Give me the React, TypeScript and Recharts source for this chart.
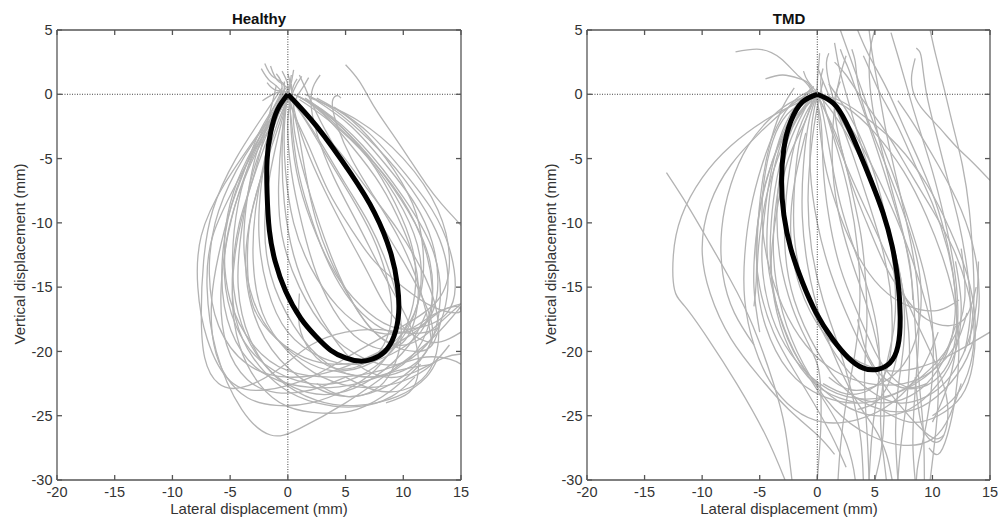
import { LineChart, Line, XAxis, YAxis, ReferenceLine } from 'recharts';

type Pt = [number, number];

const xTicks = [-20, -15, -10, -5, 0, 5, 10, 15];
const yTicks = [-30, -25, -20, -15, -10, -5, 0, 5];

// mean cycles (thick black)
const healthyMean: Pt[] = [
  [0, 0], [2.5, -2.5], [5.4, -6.1], [7.5, -9.2], [8.9, -12.3], [9.5, -14.9], [9.6, -17.0], [9.2, -18.8],
  [8.4, -20.0], [7.3, -20.6], [6.2, -20.75], [5.0, -20.5], [3.7, -19.9], [2.4, -18.8], [1.1, -17.4],
  [-0.2, -15.3], [-1.1, -13.0], [-1.6, -10.6], [-1.8, -7.7], [-1.8, -5.1], [-1.5, -3.0], [-0.9, -1.2], [0, 0],
];
const tmdMean: Pt[] = [
  [0, 0], [1.4, -0.7], [2.5, -2.2], [3.6, -4.4], [4.7, -6.8], [5.7, -9.2], [6.5, -11.8], [7.0, -14.5],
  [7.2, -17.3], [7.0, -19.6], [6.3, -20.9], [5.2, -21.4], [4.0, -21.3], [2.7, -20.5], [1.3, -19.0],
  [-0.1, -17.0], [-1.3, -14.6], [-2.3, -12.0], [-2.9, -9.4], [-3.1, -6.8], [-2.9, -4.2], [-2.3, -2.1],
  [-1.3, -0.6], [0, 0],
];

// individual healthy cycles (grey)
const h01: Pt[] = [[-1.5, 2.2], [-0.8, 1.0], [0, 0], [-2, -3], [-4.5, -7], [-6.5, -11], [-7, -15], [-6.2, -20], [-4, -24.5], [-1.5, -26.5], [1, -26], [5, -24], [9, -21.5], [12.5, -19], [15, -16.5]];
const h02: Pt[] = [[-2, 2.4], [-1.2, 1.3], [-0.3, 0.3], [-2.5, -3], [-5.5, -7], [-7.5, -11], [-7.8, -15], [-7, -19], [-5, -22.3], [-2, -23], [2, -22], [6, -20], [10, -18], [13, -16], [14, -13], [13, -9], [10, -5], [6, -2], [2, -0.3]];
const h03: Pt[] = [[0, 1.6], [0, 0], [-2, -2.5], [-4.5, -6], [-6.3, -10], [-6.8, -14], [-6, -18], [-3.5, -21], [0, -22], [4, -21.5], [8, -20], [11, -18.5], [13, -17], [15, -16.3]];
const h04: Pt[] = [[-0.5, 1.8], [0, 0], [-1.5, -2.5], [-3.5, -6], [-5, -10], [-5.5, -14], [-4.5, -18], [-2, -21], [2, -22.5], [6, -22], [9, -20], [11, -17], [11.5, -13], [10, -9], [7, -5], [3.5, -2], [1, -0.4]];
const h05: Pt[] = [[0.3, 1.5], [0, 0], [-1, -3], [-2.5, -7], [-3.5, -11], [-3.5, -15], [-2, -19], [1, -22], [5, -23.5], [9, -22.5], [12, -20], [13.2, -16], [12.5, -12], [10, -8], [6.5, -4], [3, -1.2], [0.5, 0]];
const h06: Pt[] = [[0.5, 1.9], [0.2, 0.5], [-0.5, -2], [-1.5, -6], [-2, -10], [-1.5, -14], [0.5, -18], [3.5, -21], [7, -22], [10, -21], [12, -18.5], [12.5, -15], [11.5, -11], [9, -7], [5.5, -3.5], [2.5, -1]];
const h07: Pt[] = [[0, 0], [-0.5, -3], [-0.8, -7], [-0.5, -11], [1, -15], [3.5, -18.5], [6.5, -20.5], [9.5, -21], [12, -19.5], [13.5, -17], [13.8, -13.5], [12.5, -10], [10, -6.5], [7, -3.5], [4, -1.2], [1.5, 0]];
const h08: Pt[] = [[-2.3, 2.0], [-1.5, 1], [-0.5, 0], [-1.5, -2], [-3.5, -5], [-5, -8.5], [-5.5, -12], [-5, -16], [-3, -19.5], [0, -21.5], [4, -22], [8, -21.5], [11.5, -20.5], [14, -20.6], [15, -21]];
const h09: Pt[] = [[1.2, 1.4], [0.5, 0.3], [0, -2], [0.3, -6], [1.2, -10], [2.5, -14], [4.5, -17.5], [7, -19.5], [9.5, -19.6], [11, -17.5], [11.2, -14], [10, -10.5], [8, -7], [5.5, -4], [3, -1.5], [1, -0.2]];
const h10: Pt[] = [[0, 0], [-1, -1.5], [-2.5, -4], [-3.5, -8], [-3.8, -12], [-3, -16], [-1, -19], [2, -21], [5, -21.5], [8, -20.5], [10, -18.5], [11, -15.5], [10.8, -12], [9.3, -8.5], [7, -5], [4, -2], [1.5, -0.3]];
const h11: Pt[] = [[0, 0.5], [-0.8, -1], [-2.5, -3.5], [-4.5, -7.5], [-5.6, -12], [-5.5, -16.5], [-4, -20], [-1.5, -22], [2, -22.8], [6, -22.5], [9.5, -21.5], [12.5, -21]];
const h12: Pt[] = [[-0.5, 0.5], [-2, -1.5], [-4.5, -5], [-6.5, -9], [-7.3, -13], [-7.5, -17], [-7.2, -20.5], [-6, -22.5], [-4, -22.8], [-1, -21.5], [2, -19.5], [5, -18.5], [8, -18.3], [11, -18.6], [13, -18.2]];
const h13: Pt[] = [[5, 2.3], [6.2, 1], [7.5, -1], [9, -3], [10.5, -5], [12, -7], [13.3, -8.5], [14.3, -9.5], [15, -10.2]];
const h14: Pt[] = [[4.6, -0.3], [4.3, -0.1], [3.9, -0.4], [3.9, -1.2], [4.3, -2.5], [5.5, -5], [7.5, -8], [9.5, -11], [11, -14], [12, -17], [12.5, -19.5]];
const h15: Pt[] = [[1, 1.5], [1.5, 0.5], [2.5, -1.5], [4, -4], [6, -7], [8, -10], [10, -13], [11.5, -15.5], [12.5, -18], [12, -20], [10, -21.5], [7, -22], [4, -21.5]];
const h16: Pt[] = [[0, 0], [1.5, -2], [3.5, -5], [5.5, -8], [7.3, -11], [8.5, -14], [9, -17], [8.3, -19.5], [6.5, -21], [4, -21.3], [2, -20], [1, -18], [1, -15.5]];
const h17: Pt[] = [[0, 0], [0.8, -2.5], [1.5, -6], [2.5, -10], [4, -13.5], [5.8, -16.5], [7.5, -18.5], [9.5, -19.5], [11.5, -19], [13.5, -17.5], [15, -16.3]];
const h18: Pt[] = [[-0.3, 1], [-0.5, -0.5], [-1.5, -3], [-2.3, -7], [-2.5, -11], [-1.8, -15], [0, -18.5], [3, -20.5], [6, -21], [9, -20.2], [11.5, -18.5], [12.5, -16], [12.3, -13], [11, -10], [8.5, -6.5], [5.5, -3.3], [2.5, -1], [0.5, 0]];
const h19: Pt[] = [[-1, 0.7], [-1.3, -0.5], [-2, -3], [-3, -6.5], [-4.2, -10], [-4.8, -14], [-4.5, -17.5], [-3, -20.5], [-0.5, -22.8], [2.5, -24], [6, -24.3], [9, -23.5], [11, -22]];
const h20: Pt[] = [[0, 0], [-0.3, -2.5], [-0.2, -6], [0.5, -10], [2, -13.5], [4.3, -16.5], [7, -18.3], [10, -18.5], [12.5, -17.2], [14.5, -16.5], [15, -16.8]];
const h21: Pt[] = [[0, 0], [1.2, -1.5], [3, -4], [5, -7], [7, -10], [8.5, -13], [9.5, -16], [9.8, -19], [9, -21.5], [7.5, -23], [5, -23.5], [2.5, -22.5]];
const h22: Pt[] = [[0, 0], [-1.5, -2.5], [-3, -6], [-4, -10.5], [-4.3, -15], [-3.3, -19], [-1, -22], [2.5, -23.8], [6, -24.2], [9.5, -23.5], [12, -22], [13, -20.5]];
const h23: Pt[] = [[-0.2, 0.5], [-1.2, -1], [-2.5, -3], [-3.8, -6], [-5, -9], [-6, -12.5], [-6.6, -16], [-6.4, -19.5], [-5.3, -22], [-3.5, -23.6], [-1, -24.2], [2, -24], [5, -23], [7.5, -21.5], [9.5, -19.3]];
const h24: Pt[] = [[1.8, 1.3], [1.2, 0.4], [0.5, -1], [0.8, -4], [2, -8], [3.5, -12], [5.2, -15.5], [7, -18], [9, -19.5], [11, -20], [12.5, -19.5], [13.3, -17.5]];
const h25: Pt[] = [[0, 0], [0.5, -1.5], [1.8, -4], [3.5, -7.5], [5.5, -10.5], [7.5, -13], [10, -15], [12.5, -16.5], [14.5, -17], [15, -16.8]];
const h26: Pt[] = [[-1.8, 0.9], [-1.0, 0.3], [0, 0], [-0.8, -2], [-2, -5.5], [-3.2, -9.5], [-3.5, -13], [-3, -16.5], [-1, -19], [1.5, -20.5], [4.5, -21], [7.5, -20.3], [10, -18.5], [11.5, -15.5], [11.7, -12], [10.8, -8.5], [8.5, -5], [5.5, -2], [2.5, -0.3]];
const h27: Pt[] = [[0.3, 0.8], [0.5, -1], [1.5, -4], [3.2, -7.5], [5.2, -11], [7, -14], [8.5, -16.5], [10.5, -18.5], [12.5, -19.3], [14, -19], [15, -18.5]];
const h28: Pt[] = [[-2.2, -0.5], [-1.5, -0.1], [-0.6, 0], [-1.8, -2.5], [-3.8, -6.5], [-5.2, -11], [-5.8, -15.5], [-5.3, -19.5], [-3.5, -22.2], [-1, -23.2], [2, -23], [5, -22]];
const h29: Pt[] = [[0, 0], [-1, -2], [-2, -5], [-2.8, -9], [-3, -13], [-2.2, -17], [0, -20], [3, -22], [6.5, -22.8], [10, -22.3], [12.5, -21], [14, -19.5]];
const h30: Pt[] = [[0.8, 1.2], [0.3, 0], [0.3, -3], [1, -7], [2.5, -11], [4.5, -14.5], [7, -17], [9.5, -18.2], [12, -18], [13.8, -17], [14.5, -15], [14, -12], [12.5, -9], [10, -6], [7, -3], [4, -1]];
const h31: Pt[] = [[0, 0], [2, -2], [4.5, -4.5], [7, -7.5], [9.5, -10.5], [11.5, -13.5], [12.8, -16.5], [13, -19.5], [12, -21.8], [10, -23], [7.5, -23], [5, -22]];
const h32: Pt[] = [[-1, 1.6], [-0.5, 0.6], [-1, -1.5], [-2.2, -4.5], [-3.5, -8], [-4.5, -12], [-4.8, -16], [-4.2, -19.5], [-2.5, -22.5], [0, -24.3], [3, -24.8], [6, -24.5], [9, -23], [11.5, -21]];
const h33: Pt[] = [[0, 0], [0.3, -2], [0.8, -5.5], [1.8, -9], [3.2, -12.5], [5, -15.5], [7, -17.5], [9, -18.5], [11, -18.3], [12.5, -17], [13, -14.5], [12.5, -11.5], [11, -8.5], [8.5, -5.5], [5.5, -2.5], [2.5, -0.5]];
const h34: Pt[] = [[-0.5, 0.3], [-1.5, -1.5], [-3, -4.5], [-4.3, -8.5], [-4.8, -13], [-4.3, -17], [-2.5, -20.5], [0.5, -22.8], [4, -23.3], [7.5, -22], [10.5, -19.5], [12, -17]];
const h35: Pt[] = [[2.8, 1.5], [2.3, 0.8], [2, -0.5], [2.5, -3], [4, -6.5], [6, -10], [8, -13.5], [9.8, -16.5], [11, -19], [11.3, -21.5], [10.5, -23.2], [8.5, -24]];
const h36: Pt[] = [[0, 0], [-0.3, -1.5], [-0.5, -4.5], [-0.3, -8.5], [0.5, -12.5], [2, -16], [4, -19], [6, -21], [8.5, -22], [11, -21.6], [13.5, -20.5], [15, -20.2]];

const healthyTraces = [h01, h02, h03, h04, h05, h06, h07, h08, h09, h10, h11, h12, h13, h14, h15, h16, h17, h18,
  h19, h20, h21, h22, h23, h24, h25, h26, h27, h28, h29, h30, h31, h32, h33, h34, h35, h36];

// individual TMD cycles (grey)
const t01: Pt[] = [[-13.1, -6.1], [-11.3, -8.6], [-9.4, -11.5], [-7.5, -14.5], [-5.6, -18], [-3.8, -22.5], [-2.8, -26], [-2.2, -30]];
const t02: Pt[] = [[0, 0], [-2, -0.8], [-4.5, -2], [-7.5, -4], [-10, -6.5], [-11.8, -9.5], [-12.5, -12.5], [-12.4, -15.2], [-11.5, -16.5], [-9.5, -19], [-7, -22.5], [-4.5, -26.5], [-2.8, -30]];
const t03: Pt[] = [[-7.1, 3.3], [-5, 3.5], [-3.2, 2.8], [-1.6, 1.4], [-0.5, 0.2], [-1, -2], [-2.5, -5], [-3.5, -9], [-4, -13], [-3.5, -17], [-2, -20.5], [0.5, -23], [3.5, -24]];
const t04: Pt[] = [[0, 0], [-1.5, -1.5], [-3, -4], [-4.3, -7.5], [-5, -11], [-5.2, -14.5], [-4.5, -18], [-2.5, -21.5], [0.5, -23.5], [4, -24], [7.5, -23], [10.5, -21], [12, -18]];
const t05: Pt[] = [[-0.5, 0.5], [-1.8, -1], [-3.2, -3.5], [-4.5, -7], [-5.3, -11], [-5.5, -15], [-5, -18.5]];
const t06: Pt[] = [[0, 0.3], [-1.2, -1], [-2.5, -3.2], [-3.5, -6.5], [-4, -10], [-4, -14], [-3, -18], [-1, -21.5], [2, -24], [5, -25], [8, -24.5], [10.5, -22.5], [12, -20], [12.5, -16.5], [12, -13]];
const t07: Pt[] = [[0, 0], [-1, -1.5], [-2, -4], [-2.7, -8], [-2.8, -12], [-2, -16], [0, -20], [2.5, -23], [5.5, -24.5], [8.5, -24.5], [11, -23], [13, -20.5], [14, -17], [13.8, -13], [12.5, -9], [10.5, -5.5], [8.5, -2.5], [7, -0.5]];
const t08: Pt[] = [[-0.3, 0.3], [-2.5, -1], [-5, -3], [-7.5, -5.5], [-9.3, -8.5], [-10, -12], [-9.3, -15.5], [-7.5, -19], [-5, -22], [-2.5, -24.5], [0, -26.5], [1.5, -28]];
const t09: Pt[] = [[0.5, 1], [0, -1], [-0.5, -4], [-0.8, -8], [-0.5, -12], [0.5, -16], [2, -20], [3.2, -24], [3.8, -27], [4, -30]];
const t10: Pt[] = [[2.5, 3], [2, 1.5], [1.5, -1], [1.3, -5], [1.8, -9], [3, -13], [4.5, -17], [5.5, -21], [5.8, -25], [5.5, -28], [5, -30]];
const t11: Pt[] = [[4.5, 5], [4.8, 3], [5.3, 0.5], [6, -3], [7, -7], [8, -11], [8.7, -15], [8.8, -19], [8.5, -23], [8.3, -27], [8.5, -30]];
const t12: Pt[] = [[2, 5], [2.8, 3], [3.8, 0.5], [5, -2.5], [6.5, -6], [8, -10], [9.3, -14], [10, -18], [10, -22], [9.5, -25.5], [8.8, -28.5], [8.6, -30]];
const t13: Pt[] = [[8.5, 2.8], [8.2, 1.5], [8.3, 0.3], [9, -1], [10.5, -2.5], [12, -4], [13.5, -5.3], [15, -6.7]];
const t14: Pt[] = [[3.5, 5], [4.5, 3], [6, 0.5], [7.5, -2.5], [9, -5.5], [10.5, -9], [11.5, -12.5], [12, -16], [11.5, -19.5], [10, -22], [8, -23.5], [5.5, -24], [3, -23.5]];
const t15: Pt[] = [[8.6, 3.6], [8.9, 3.3], [9.1, 2.5], [9.5, 0], [10.3, -3], [11.3, -6.5], [12.3, -10], [13, -13.5], [13.3, -17], [12.8, -20]];
const t16: Pt[] = [[1, 3.2], [0.8, 2.5], [1, 1], [1.8, -1.5], [3, -4.5], [4.3, -8], [5.5, -11.5], [6.3, -15], [6.5, -18.5], [6, -21.5], [4.5, -23], [2.5, -23.3], [0.5, -22.5]];
const t17: Pt[] = [[3, 3.5], [3.3, 2.5], [3.5, 1], [4.2, -1.5], [5.5, -4.5], [7, -8], [8.3, -11.5], [9, -15], [8.7, -18.5], [7.5, -21], [5.5, -22.5], [3, -23], [1, -22]];
const t18: Pt[] = [[0, 0], [0.8, -1.5], [2, -4], [3, -7.5], [3.8, -11], [4.2, -14.5], [4.3, -18], [4.1, -22], [4.3, -26], [4.5, -30]];
const t19: Pt[] = [[0, 2.2], [0.5, 1], [1.5, -1], [3, -3.5], [4.5, -6.5], [6, -10], [7, -13.5], [7.3, -17], [7, -20], [6.2, -22.5], [5, -24], [3.5, -24.5]];
const t20: Pt[] = [[6.4, 4.8], [7, 3], [7.8, 0.5], [8.8, -2.5], [10, -6], [11, -9.5], [11.8, -13], [12.2, -16.5], [12, -20], [11.2, -23], [10, -25.5]];
const t21: Pt[] = [[1.5, 2.5], [2.5, 1.5], [4, -0.5], [6, -3], [8, -6], [10, -9], [11.8, -12], [13, -15], [13.6, -18], [13.3, -21], [12, -23.5], [10, -25]];
const t22: Pt[] = [[-1, -3], [-2, -7], [-2.3, -11], [-1.5, -15], [0.5, -18.5], [3, -20.5], [6, -21.5], [9, -21.2], [11.5, -20.3], [13.5, -19.3], [15, -18.5]];
const t23: Pt[] = [[0, 0], [1, -2], [2.5, -5.5], [4.5, -9.5], [6.5, -13.5], [8.5, -17.5], [10.3, -21], [11.3, -24], [11, -26.5], [10, -27], [9, -25.5], [8.5, -22]];
const t24: Pt[] = [[0, 0], [-0.7, -2], [-1.2, -5.5], [-1.3, -9.5], [-0.8, -13.5], [0.3, -17.5], [1.8, -21], [3.5, -24], [5, -26], [6, -28], [6.5, -30]];
const t25: Pt[] = [[0, 0.5], [-1, -0.8], [-2.5, -2.5], [-3.8, -5], [-4.8, -8], [-5.3, -11.5], [-5, -15], [-3.8, -18.5], [-2, -21.5], [0, -24.5], [1.5, -27], [2.5, -29]];
const t26: Pt[] = [[-4.5, 1.2], [-3, 1.5], [-1.5, 1.2], [-0.5, 0.5], [0.3, -2], [0.5, -5.5], [1, -9.5], [2, -13.5], [3.5, -17], [5, -20], [6.5, -22], [8, -22.8], [9.5, -22.5]];
const t27: Pt[] = [[0, 0], [1.5, -1], [3.2, -3], [5, -6], [6.8, -9.5], [8.3, -13], [9.5, -16.5], [10.3, -20], [10.5, -23.5], [10.2, -27], [9.8, -30]];
const t28: Pt[] = [[0, 0], [-2, -0.5], [-4, -1.8], [-6, -4], [-7.5, -7], [-8.3, -10.5], [-8.2, -14], [-7.2, -17], [-5.5, -19.5]];
const t29: Pt[] = [[2, 1], [1.5, -0.5], [1.8, -3], [2.8, -6.5], [4.3, -10], [6, -13.5], [7.8, -16], [9.5, -17.5], [11.5, -18], [13, -17.2], [13.8, -15]];
const t30: Pt[] = [[0, 0], [-0.5, -2.5], [-0.6, -6], [0, -10], [1.2, -14], [3, -18], [5, -21.5], [7, -24], [9, -26], [10.3, -26.8], [11, -26.5]];
const t31: Pt[] = [[0, 0], [-1.8, -2], [-3, -5], [-3.5, -9], [-3.2, -13], [-2.2, -16.5], [-1, -19], [0, -21], [0.3, -23], [0.3, -26], [0, -30]];
const t32: Pt[] = [[0, 0], [1, -1], [2.5, -3], [4, -5.5], [5.5, -9], [6.8, -12.5], [7.5, -16], [7.5, -19.5], [7, -23], [6.8, -26.5], [7, -30]];
const t33: Pt[] = [[0.2, 3.2], [0.1, 2], [0, 0.5], [0.2, -2.5], [0.8, -6], [2, -9.5], [3.5, -12.5], [5.5, -15], [8, -16.5], [10.5, -16.8], [12.3, -16]];
const t34: Pt[] = [[-2, 0.5], [-3, -1], [-4, -3.5], [-4.8, -7], [-5.2, -11], [-5.3, -14.5], [-5.5, -16.5]];
const t35: Pt[] = [[-1, -1], [-2.5, -4], [-3.5, -8], [-3.8, -12.5], [-3, -17], [-1.2, -21], [1.5, -24.5], [4.5, -26.5], [7.5, -27.3], [10, -26.8], [11.5, -25], [12.5, -22.5]];
const t36: Pt[] = [[0, 0], [2, -0.5], [4.5, -2], [7, -4], [9.5, -7], [11.5, -10.5], [13, -14], [13.7, -17.5], [13.5, -21], [12.5, -23.5], [10.5, -25], [8, -25.5], [5.5, -24.5]];
const t37: Pt[] = [[0, 0], [-2.2, -1.2], [-3.6, -3], [-4.5, -6], [-4.8, -9.5], [-4.3, -13], [-3, -16.5], [-1, -19.5], [1.5, -21.5], [4.5, -22.5], [7.5, -22.5], [10, -21.5], [12, -19.5], [13, -17]];
const t38: Pt[] = [[5, 5], [4.7, 4], [4.5, 2], [4.8, -1], [5.5, -4], [6.5, -7.5], [7.5, -11], [8.2, -14.5], [8.5, -18], [8.8, -22], [9.2, -26], [9.3, -30]];
const t39: Pt[] = [[2, 3.5], [2.3, 2.8], [2.7, 2], [3.5, 0], [4.5, -2.5], [5.8, -6], [7, -9.5], [8, -13], [8.3, -16]];
const t40: Pt[] = [[0, 0], [-1.5, -1], [-2.8, -3], [-3.8, -6], [-4.3, -9.5], [-4.3, -13], [-3.5, -16.5], [-2, -20], [0, -23], [2, -26], [3, -28.5], [3.3, -30]];
const t41: Pt[] = [[-0.3, 0.6], [-1.6, -0.6], [-3, -2.8], [-4, -6], [-4.6, -9.5], [-4.8, -13], [-4.2, -16.5], [-2.8, -19.5], [-0.5, -22], [2.5, -23.5], [6, -23.5], [9, -22], [11.5, -19.5], [12.8, -16], [12.5, -12]];
const t42: Pt[] = [[9.8, 5], [10.3, 3], [11, 0.5], [11.8, -2.5], [12.6, -5.5], [13.2, -9], [13.5, -12.5], [13.6, -16], [13.2, -19.5]];
const t43: Pt[] = [[1.5, 4], [1.8, 2.5], [2.2, 1], [3, -1.5], [4, -4.5], [5.3, -8], [6.5, -11.5], [7.5, -15.5], [8, -19.5], [7.8, -23.5], [7.3, -27], [7, -30]];
const t44: Pt[] = [[0, 0], [-0.8, -1.5], [-1.6, -4], [-2, -7.5], [-2, -11], [-1.3, -14.5], [0.2, -18], [2.2, -21], [4.5, -23], [7, -24], [9.5, -23.5], [11.5, -22], [13, -19.5], [13.8, -16.5], [14, -13]];
const t45: Pt[] = [[0, 0], [2.5, -1], [5, -3], [7.5, -6], [9.5, -9.5], [11, -13], [12, -16.5], [12.3, -20], [12, -23.5], [11.3, -26.5], [10.5, -28], [9.7, -27.5]];
const t46: Pt[] = [[0.5, 2], [0.3, 0.8], [0.8, -1.5], [1.8, -4.5], [2.8, -8], [3.5, -12], [3.7, -16], [3.3, -20], [2.5, -24], [2, -27.5], [1.8, -30]];
const t47: Pt[] = [[-0.5, 0.3], [-2, -0.5], [-3.5, -2.5], [-4.8, -5.5], [-5.8, -9], [-6.3, -12.5], [-6.3, -16], [-5.5, -19.5], [-4, -22.5], [-2, -24.5], [0.5, -25.5], [3.5, -25.3], [6.5, -24], [9, -21.5], [10.5, -18.5]];
const t48: Pt[] = [[1, 0.8], [2, -0.5], [3.3, -2.5], [4.7, -5.5], [5.8, -9], [6.5, -12.5], [6.8, -16], [6.5, -19], [5.8, -22], [5.5, -25.5], [5.8, -28.5], [6, -30]];
const t49: Pt[] = [[4, 3], [4.5, 2], [5.5, 0], [7, -2.5], [8.5, -5.5], [10, -8.5], [11.3, -12], [12, -15.5], [12, -19], [11, -21.5], [9, -22.8], [6.5, -22.5], [4.5, -20.5], [3.5, -17.5]];
const t50: Pt[] = [[-1.2, 1.8], [-0.8, 1], [0, 0], [0.6, -2], [1.2, -5], [2, -8.5], [3.2, -12], [4.5, -15.5], [5.3, -19], [5.3, -22.5], [4.8, -26], [4.5, -30]];

const tmdTraces = [t01, t02, t03, t04, t05, t06, t07, t08, t09, t10, t11, t12, t13, t14, t15, t16, t17, t18, t19, t20,
  t21, t22, t23, t24, t25, t26, t27, t28, t29, t30, t31, t32, t33, t34, t35, t36, t37, t38, t39, t40,
  t41, t42, t43, t44, t45, t46, t47, t48, t49, t50];

const toRows = (t: Pt[]) => t.map(([x, y]) => ({ x, y }));

const FONT = '"Liberation Sans", Arial, Helvetica, sans-serif';
const AXIS = '#555';
const tickStyle = { fontSize: 14.5, fill: '#333', fontFamily: FONT };
const noLabel = () => <g />;

function Panel({ traces, mean, width, left, right }: { traces: Pt[][]; mean: Pt[]; width: number; left: number; right: number }) {
  return (
    <LineChart width={width} height={522} margin={{ top: 25, right, bottom: 12, left }}>
      <XAxis xAxisId="b" type="number" dataKey="x" domain={[-20, 15]} ticks={xTicks} allowDataOverflow
        stroke={AXIS} strokeWidth={1.3} tickSize={-5} tickMargin={12} tick={tickStyle} height={30} />
      <XAxis xAxisId="t" orientation="top" type="number" dataKey="x" domain={[-20, 15]} ticks={xTicks} allowDataOverflow
        stroke={AXIS} strokeWidth={1.3} tickSize={-5} tick={noLabel} height={5} />
      <YAxis yAxisId="l" type="number" domain={[-30, 5]} ticks={yTicks} allowDataOverflow
        stroke={AXIS} strokeWidth={1.3} tickSize={-5} tickMargin={9.5} tick={tickStyle} width={45} />
      <YAxis yAxisId="r" orientation="right" type="number" domain={[-30, 5]} ticks={yTicks} allowDataOverflow
        stroke={AXIS} strokeWidth={1.3} tickSize={-5} tick={noLabel} width={5} />
      {traces.map((t, i) => (
        <Line key={i} xAxisId="b" yAxisId="l" data={toRows(t)} dataKey="y" type="natural"
          stroke="#b3b3b3" strokeWidth={1.3} dot={false} activeDot={false} isAnimationActive={false} />
      ))}
      <ReferenceLine xAxisId="b" yAxisId="l" x={0} stroke="#444" strokeDasharray="1 1.5" strokeWidth={1} />
      <ReferenceLine xAxisId="b" yAxisId="l" y={0} stroke="#444" strokeDasharray="1 1.5" strokeWidth={1} />
      <Line xAxisId="b" yAxisId="l" data={toRows(mean)} dataKey="y" type="natural"
        stroke="#000" strokeWidth={5} dot={false} activeDot={false} isAnimationActive={false} />
    </LineChart>
  );
}

const labelBase = { position: 'absolute' as const, fontFamily: FONT, color: '#333', fontSize: 15, whiteSpace: 'nowrap' as const };

export default function App() {
  return (
    <div style={{ position: 'absolute', left: 0, top: 0, width: 1002, height: 522, background: '#fff' }}>
      <div style={{ position: 'absolute', left: 0, top: 0 }}>
        <Panel traces={healthyTraces} mean={healthyMean} width={500} left={12} right={34} />
      </div>
      <div style={{ position: 'absolute', left: 500, top: 0 }}>
        <Panel traces={tmdTraces} mean={tmdMean} width={502} left={42} right={7} />
      </div>
      <div style={{ ...labelBase, left: 259, top: 18, transform: 'translate(-50%, -50%)', fontWeight: 'bold', color: '#111' }}>Healthy</div>
      <div style={{ ...labelBase, left: 789, top: 18, transform: 'translate(-50%, -50%)', fontWeight: 'bold', color: '#111' }}>TMD</div>
      <div style={{ ...labelBase, left: 259, top: 508, transform: 'translate(-50%, -50%)' }}>Lateral displacement (mm)</div>
      <div style={{ ...labelBase, left: 789, top: 508, transform: 'translate(-50%, -50%)' }}>Lateral displacement (mm)</div>
      <div style={{ ...labelBase, left: 19, top: 254, transform: 'translate(-50%, -50%) rotate(-90deg)' }}>Vertical displacement (mm)</div>
      <div style={{ ...labelBase, left: 550, top: 254, transform: 'translate(-50%, -50%) rotate(-90deg)' }}>Vertical displacement (mm)</div>
    </div>
  );
}
